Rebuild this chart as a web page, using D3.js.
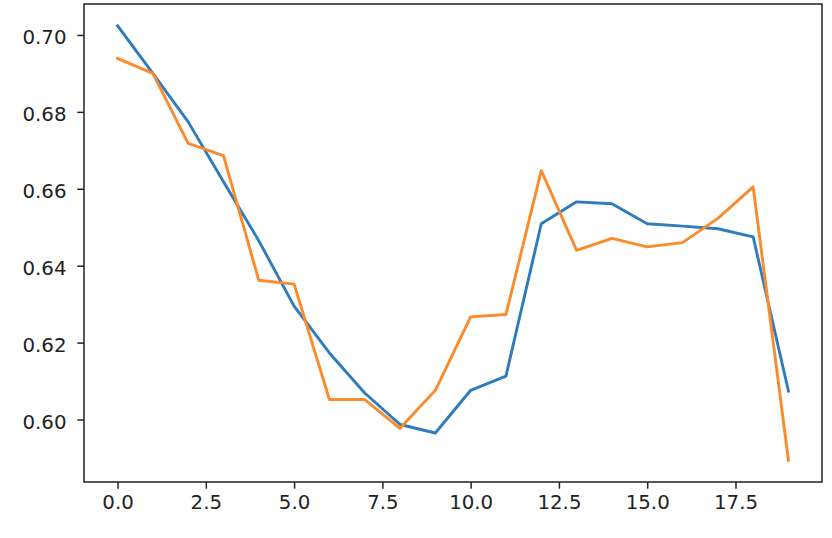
<!DOCTYPE html>
<html>
<head>
<meta charset="utf-8">
<script src="https://cdn.jsdelivr.net/npm/d3@7"></script>
<style>
  html, body { margin: 0; padding: 0; background: #fff; }
  svg { display: block; }
  text { font-family: "DejaVu Sans", sans-serif; }
</style>
</head>
<body>
<div id="chart"></div>
<script>
const xValues = [0,1,2,3,4,5,6,7,8,9,10,11,12,13,14,15,16,17,18,19];
const seriesBlue = [0.7024,0.6900,0.6774,0.6618,0.6465,0.6295,0.6173,0.6069,0.5987,0.5965,
                    0.6076,0.6113,0.6509,0.6566,0.6561,0.6509,0.6503,0.6496,0.6475,0.6074];
const seriesOrange = [0.6939,0.6900,0.6718,0.6686,0.6362,0.6352,0.6052,0.6052,0.5977,0.6076,
                      0.6267,0.6273,0.6647,0.6440,0.6471,0.6449,0.6460,0.6523,0.6605,0.5894];
const xTicks = [0, 2.5, 5, 7.5, 10, 12.5, 15, 17.5];
const yTicks = [0.60, 0.62, 0.64, 0.66, 0.68, 0.70];
const colors = ["#2f7bbb", "#fb8a2c"];

const W = 832, H = 538;
const mLeft = 84, mRight = 822, mTop = 4, mBottom = 482;

const svg = d3.select("#chart").append("svg").attr("width", W).attr("height", H);

const xMin = d3.min(xValues), xMax = d3.max(xValues);
const xPad = (xMax - xMin) * 0.05;
const x = d3.scaleLinear().domain([xMin - xPad, xMax + xPad]).range([mLeft, mRight]);

const allY = seriesBlue.concat(seriesOrange);
const yMin = d3.min(allY), yMax = d3.max(allY);
const yPad = (yMax - yMin) * 0.05;
const y = d3.scaleLinear().domain([yMin - yPad, yMax + yPad]).range([mBottom, mTop]);

const line = d3.line().x((d, i) => x(xValues[i])).y(d => y(d));

[seriesBlue, seriesOrange].forEach((s, k) => {
  svg.append("path")
    .datum(s)
    .attr("d", line)
    .attr("fill", "none")
    .attr("stroke", colors[k])
    .attr("stroke-width", 2.9)
    .attr("stroke-linejoin", "round")
    .attr("stroke-linecap", "square");
});

// X axis
const xAxis = d3.axisBottom(x).tickValues(xTicks).tickFormat(d3.format(".1f"))
  .tickSizeInner(6.7).tickSizeOuter(0).tickPadding(6.7);
const gx = svg.append("g").attr("transform", `translate(0,${mBottom})`).call(xAxis);
gx.select(".domain").remove();
gx.selectAll(".tick line").attr("stroke", "#222").attr("stroke-width", 1.5);
gx.selectAll(".tick text").attr("fill", "#222").style("font-size", "19.8px")
  .attr("y", 13.2).attr("dy", "0.71em");

// Y axis
const yAxis = d3.axisLeft(y).tickValues(yTicks).tickFormat(d3.format(".2f"))
  .tickSizeInner(6.7).tickSizeOuter(0).tickPadding(6.7);
const gy = svg.append("g").attr("transform", `translate(${mLeft},0)`).call(yAxis);
gy.select(".domain").remove();
gy.selectAll(".tick line").attr("stroke", "#222").attr("stroke-width", 1.5);
gy.selectAll(".tick text").attr("fill", "#222").style("font-size", "19.8px")
  .attr("x", -17.5).attr("dy", "0.45em");

// Frame
svg.append("rect")
  .attr("x", mLeft).attr("y", mTop)
  .attr("width", mRight - mLeft).attr("height", mBottom - mTop)
  .attr("fill", "none").attr("stroke", "#222").attr("stroke-width", 1.5);
</script>
</body>
</html>
